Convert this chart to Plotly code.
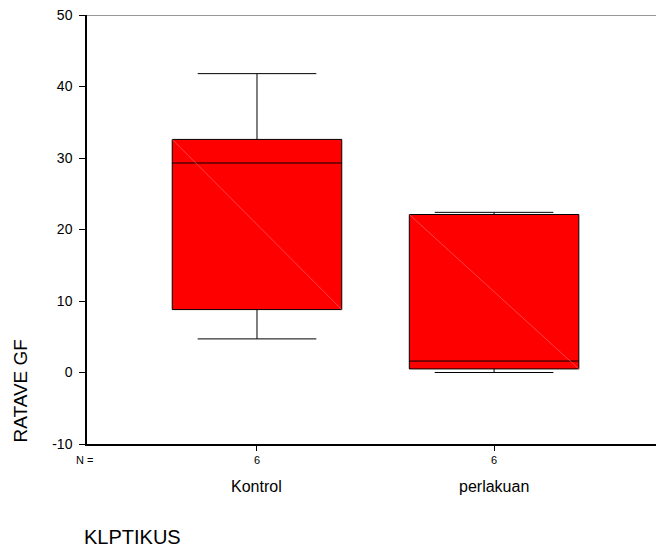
import plotly.graph_objects as go

groups = ["Kontrol", "perlakuan"]
counts = [6, 6]
lower = [4.7, 0.0]
q1 = [8.8, 0.5]
median = [29.3, 1.6]
q3 = [32.6, 22.1]
upper = [41.8, 22.4]
positions = [0, 1]
yticks = [-10, 0, 10, 20, 30, 40, 50]

PH = 429.0  # plot height in px
BOXW = 0.715
fig = go.Figure()
fig.add_trace(go.Box(
    x=positions, q1=q1, median=median, q3=q3, lowerfence=lower, upperfence=upper,
    width=BOXW, whiskerwidth=0.7, fillcolor="#ff0000",
    line=dict(color="#000000", width=1), boxpoints=False, hoverinfo="skip"))

# SPSS-style faint diagonal across each box
for p, a, b in zip(positions, q3, q1):
    fig.add_trace(go.Scatter(x=[p - BOXW / 2, p + BOXW / 2], y=[a, b], mode="lines",
                             line=dict(color="#ff7070", width=0.6), hoverinfo="skip"))

for p, n, g in zip(positions, counts, groups):
    fig.add_annotation(x=p, y=-(460 - 444) / PH, xref="x", yref="paper", text=str(n),
                       showarrow=False, font=dict(size=11), yanchor="middle")
    fig.add_annotation(x=p, y=-(486 - 444) / PH, xref="x", yref="paper", text=g,
                       showarrow=False, font=dict(size=16), yanchor="middle")

fig.add_annotation(x=(84 - 87) / 569, y=-(460 - 444) / PH, xref="paper", yref="paper",
                   text="N =", showarrow=False, font=dict(size=11),
                   xanchor="center", yanchor="middle")
fig.add_annotation(x=(20 - 87) / 569, y=-1 / PH, xref="paper", yref="paper", text="RATAVE GF",
                   textangle=-90, showarrow=False, font=dict(size=19),
                   xanchor="center", yanchor="bottom")
fig.add_annotation(x=(82 - 87) / 569, y=-(537 - 444) / PH, xref="paper", yref="paper",
                   text="KLPTIKUS", showarrow=False, font=dict(size=20),
                   xanchor="left", yanchor="middle")

fig.add_shape(type="line", xref="paper", yref="y", x0=0, x1=1, y0=yticks[-1], y1=yticks[-1],
              line=dict(color="#333333", width=1))

fig.update_layout(
    width=656, height=548, margin=dict(l=87, r=0, t=15, b=104),
    paper_bgcolor="white", plot_bgcolor="white", showlegend=False,
    font=dict(family="Arial, Liberation Sans, sans-serif", color="#000000"),
    xaxis=dict(range=[-0.717, 1.683], tickvals=positions, ticktext=["", ""], ticks="outside",
               ticklen=5, tickcolor="#000000", showline=True, linecolor="#000000", linewidth=1.5,
               showgrid=False, zeroline=False, fixedrange=True),
    yaxis=dict(range=[yticks[0], yticks[-1]], tickvals=yticks,
               ticktext=[str(v) for v in yticks], ticks="outside", ticklen=6,
               ticklabelstandoff=4,
               tickcolor="#000000", showline=True, linecolor="#000000", linewidth=1.5,
               showgrid=False, zeroline=False, tickfont=dict(size=14)),
)
fig.write_html("out.html")
